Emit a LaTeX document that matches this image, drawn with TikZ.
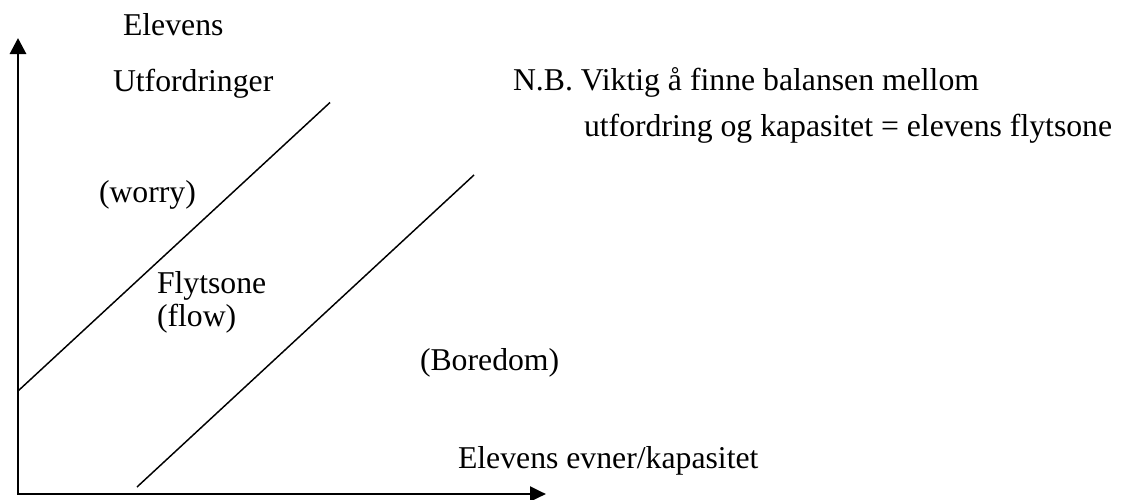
\documentclass[tikz,border=0pt]{standalone}
\usepackage{fontspec}
\setmainfont{Liberation Serif}
\usetikzlibrary{arrows.meta}
\begin{document}
\begin{tikzpicture}[x=0.75pt,y=-0.75pt,
  lbl/.style={anchor=base west,inner sep=0pt,outer sep=0pt,font=\fontsize{23.8pt}{28pt}\selectfont},
  axis/.style={line width=2.2pt,line join=miter},
  zone/.style={line width=1.1pt}]
\useasboundingbox (0,0) rectangle (1122,500);
\coordinate (ytip) at (18,38);
\coordinate (O) at (18,494);
\coordinate (xtip) at (546,494);
\draw[axis,{Triangle[length=12pt,width=12pt]}-{Triangle[length=12pt,width=11pt]}] (ytip) -- (O) -- (xtip);
\coordinate (a1) at (18,391);
\coordinate (a2) at (330,102.5);
\coordinate (b1) at (137,487);
\coordinate (b2) at (474,175);
\draw[zone] (a1) -- (a2);
\draw[zone] (b1) -- (b2);
\node[lbl] (elev) at (123,35) {Elevens};
\node[lbl] (utf) at (113,91) {Utfordringer};
\node[lbl] (nb) at (513,90) {N.B. Viktig å finne balansen mellom};
\node[lbl] (nb2) at (584,136) {utfordring og kapasitet = elevens flytsone};
\node[lbl] (worry) at (99,202) {(worry)};
\node[lbl] (flyt) at (157,293) {Flytsone};
\node[lbl] (flow) at (157,326) {(flow)};
\node[lbl] (bored) at (420,370) {(Boredom)};
\node[lbl] (evner) at (458,468) {Elevens evner/kapasitet};
\end{tikzpicture}
\end{document}
